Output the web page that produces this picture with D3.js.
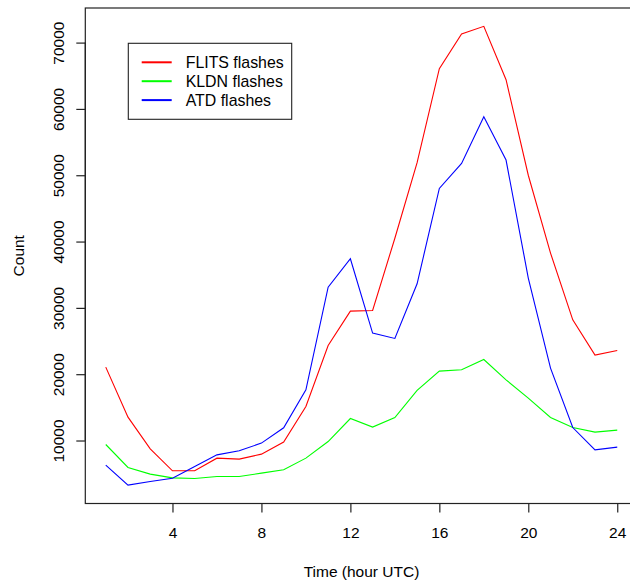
<!DOCTYPE html>
<html>
<head>
<meta charset="utf-8">
<script src="https://cdn.jsdelivr.net/npm/d3@7"></script>
<style>
  html, body { margin: 0; padding: 0; background: #fff; }
  svg { display: block; }
  text { font-family: "Liberation Sans", Arial, Helvetica, sans-serif; fill: #000; }
</style>
</head>
<body>
<svg id="chart" width="630" height="580"></svg>
<script>
// ---- data ----
const hours = d3.range(1, 25);
const flits = [21070, 13530, 8750, 5430, 5430, 7340, 7190, 7950, 9760, 15130, 24330, 29510,
               29610, 40500, 51900, 66060, 71290, 72450, 64400, 50000, 38260, 28200, 22880, 23580];
const kldn  = [9400, 5930, 4930, 4370, 4270, 4570, 4570, 5080, 5580, 7340, 9850, 13320,
               12020, 13470, 17550, 20470, 20660, 22220, 19150, 16390, 13470, 11960, 11260, 11560];
const atd   = [6290, 3270, 3820, 4320, 6080, 7840, 8450, 9610, 11920, 17650, 33130, 37410,
               26200, 25390, 33630, 48010, 51780, 58820, 52290, 34500, 20920, 11960, 8600, 9000];
const seriesNames = ["FLITS flashes", "KLDN flashes", "ATD flashes"];
const seriesColors = ["#ff0000", "#00ff00", "#0000ff"];
const xTicks = [4, 8, 12, 16, 20, 24];
const yTicks = [10000, 20000, 30000, 40000, 50000, 60000, 70000];

// ---- layout ----
const svg = d3.select("#chart");
const plotL = 85.3, plotR = 637.7, plotT = 8, plotB = 503.5;

// R-style 4% axis extension
function rRange(ext) { const d = (ext[1] - ext[0]) * 0.04; return [ext[0] - d, ext[1] + d]; }
const xDom = rRange(d3.extent(hours));
const yDom = rRange(d3.extent(flits.concat(kldn, atd)));

const x = d3.scaleLinear().domain(xDom).range([plotL, plotR]);
const y = d3.scaleLinear().domain(yDom).range([plotB, plotT]);

const fs = "15.5px";

// lines
const all = [flits, kldn, atd];
const line = d3.line().x((d, i) => x(hours[i])).y(d => y(d));
all.forEach((s, k) => {
  svg.append("path").datum(s)
    .attr("d", line)
    .attr("fill", "none")
    .attr("stroke", seriesColors[k])
    .attr("stroke-width", 1.1)
    .attr("stroke-linejoin", "miter");
});

// box
svg.append("rect")
  .attr("x", plotL).attr("y", plotT)
  .attr("width", plotR - plotL).attr("height", plotB - plotT)
  .attr("fill", "none").attr("stroke", "#222").attr("stroke-width", 1.2);

// x axis
const xAxis = d3.axisBottom(x).tickValues(xTicks).tickSize(9).tickPadding(14).tickFormat(d3.format("d"));
const gx = svg.append("g").attr("transform", `translate(0,${plotB})`).call(xAxis);
gx.select(".domain").attr("d", `M${x(xTicks[0])},0H${x(xTicks[xTicks.length-1])}`).attr("stroke", "#222").attr("stroke-width", 1.2);
gx.selectAll(".tick line").attr("stroke", "#222").attr("stroke-width", 1.2);
gx.selectAll(".tick text").style("font-size", fs).attr("font-family", null).attr("dy", "0.71em").attr("y", 23);

// y axis
const yAxis = d3.axisLeft(y).tickValues(yTicks).tickSize(9).tickFormat(d3.format("d"));
const gy = svg.append("g").attr("transform", `translate(${plotL},0)`).call(yAxis);
gy.select(".domain").attr("d", `M0,${y(yTicks[0])}V${y(yTicks[yTicks.length-1])}`).attr("stroke", "#222").attr("stroke-width", 1.2);
gy.selectAll(".tick line").attr("stroke", "#222").attr("stroke-width", 1.2);
gy.selectAll(".tick text")
  .style("font-size", fs).attr("font-family", null)
  .attr("x", null).attr("dy", null)
  .attr("text-anchor", "middle")
  .attr("transform", "translate(-21.5,0) rotate(-90)");

// axis titles
svg.append("text").attr("x", (plotL + plotR) / 2).attr("y", 577)
  .attr("text-anchor", "middle").style("font-size", fs).text("Time (hour UTC)");
svg.append("text")
  .attr("transform", `translate(24,${(plotT + plotB) / 2}) rotate(-90)`)
  .attr("text-anchor", "middle").style("font-size", fs).text("Count");

// legend
const lg = svg.append("g");
lg.append("rect").attr("x", 128.3).attr("y", 43.3).attr("width", 163.4).attr("height", 76)
  .attr("fill", "#fff").attr("stroke", "#222").attr("stroke-width", 1.1);
seriesNames.forEach((n, i) => {
  const yy = 62.3 + i * 18.9;
  lg.append("line").attr("x1", 141.7).attr("x2", 171.7).attr("y1", yy).attr("y2", yy)
    .attr("stroke", seriesColors[i]).attr("stroke-width", 2);
  lg.append("text").attr("x", 185.7).attr("y", yy).attr("dy", "0.35em")
    .style("font-size", "15.9px").text(n);
});
</script>
</body>
</html>
